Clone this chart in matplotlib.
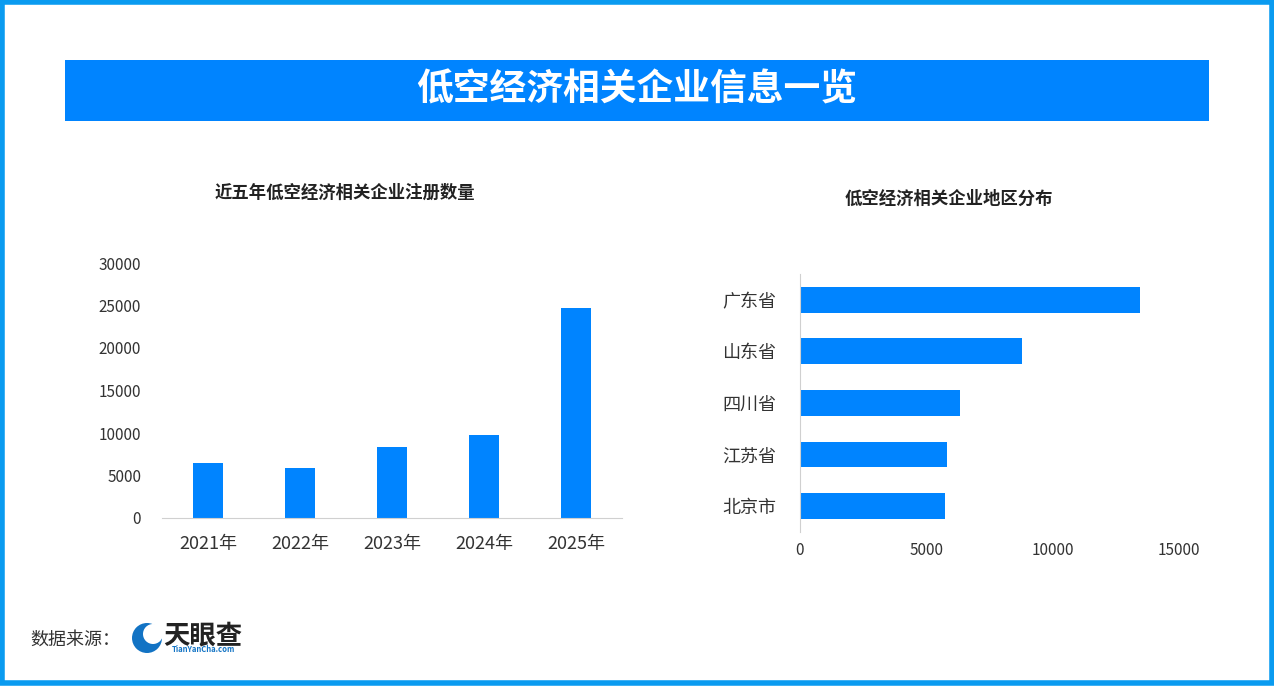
import matplotlib
matplotlib.use("Agg")
import matplotlib.pyplot as plt
from matplotlib.patches import Rectangle, Circle

plt.rcParams['font.family'] = ['Noto Sans CJK SC', 'DejaVu Sans']

BLUE = '#0084ff'
W, H = 1274, 687

years = ['2021年', '2022年', '2023年', '2024年', '2025年']
registered = [6500, 5900, 8400, 9800, 24700]
y_ticks = [0, 5000, 10000, 15000, 20000, 25000, 30000]

regions = ['北京市', '江苏省', '四川省', '山东省', '广东省']
region_counts = [5750, 5800, 6350, 8800, 13450]
x_ticks = [0, 5000, 10000, 15000]

fig = plt.figure(figsize=(W / 100, H / 100), dpi=100, facecolor='white')
bg = fig.add_axes([0, 0, 1, 1])
bg.set_xlim(0, W)
bg.set_ylim(H, 0)
bg.axis('off')

# frame and title band
bg.add_patch(Rectangle((2, 2), W - 4, H - 6, fill=False, ec='#0a9bf0', lw=4))
bg.add_patch(Rectangle((65, 60), 1144, 61, color=BLUE, lw=0))
bg.text(637, 90, '低空经济相关企业信息一览', color='white', fontsize=26.5,
        fontweight='bold', ha='center', va='center')
bg.text(345, 193, '近五年低空经济相关企业注册数量', color='#222222', fontsize=12.5,
        fontweight='bold', ha='center', va='center')
bg.text(949, 199, '低空经济相关企业地区分布', color='#222222', fontsize=12.5,
        fontweight='bold', ha='center', va='center')

# source line
bg.text(75, 640, '数据来源：', color='#333333', fontsize=13, ha='center', va='center')
bg.add_patch(Circle((147, 638), 15, color='#1273c4', lw=0))
bg.add_patch(Circle((153, 634), 10, color='white', lw=0))
bg.text(203, 636, '天眼查', color='#222222', fontsize=19, fontweight='bold', ha='center', va='center')
bg.text(203, 650, 'TianYanCha.com', color='#1273c4', fontsize=5.5, fontweight='bold', ha='center', va='center')

# left chart, axes box from the pixel positions of the baseline and the 30000 tick
ax1 = fig.add_axes([162 / W, 1 - 518 / H, (622 - 162) / W, (518 - 263) / H])
ax1.bar(years, registered, width=0.32, color=BLUE)
ax1.set_ylim(0, 30000)
ax1.set_xlim(-0.5, 4.5)
ax1.set_yticks(y_ticks)
for s in ['top', 'right', 'left']:
    ax1.spines[s].set_visible(False)
ax1.spines['bottom'].set_color('#d0d0d0')
ax1.tick_params(axis='y', length=0, labelsize=11, pad=15, labelcolor='#333333')
ax1.tick_params(axis='x', length=0, labelsize=13, pad=12, labelcolor='#333333')

# right chart
ax2 = fig.add_axes([800 / W, 1 - 532 / H, (1179 - 800) / W, (532 - 274) / H])
ax2.barh(regions, region_counts, height=0.5, color=BLUE)
ax2.set_xlim(0, 15000)
ax2.set_ylim(-0.5, 4.5)
ax2.set_xticks(x_ticks)
for s in ['top', 'right', 'bottom']:
    ax2.spines[s].set_visible(False)
ax2.spines['left'].set_color('#d0d0d0')
ax2.tick_params(axis='x', length=0, labelsize=11, pad=7, labelcolor='#333333')
ax2.tick_params(axis='y', length=0, labelsize=13, pad=17, labelcolor='#333333')

fig.savefig('out.png', dpi=100)
